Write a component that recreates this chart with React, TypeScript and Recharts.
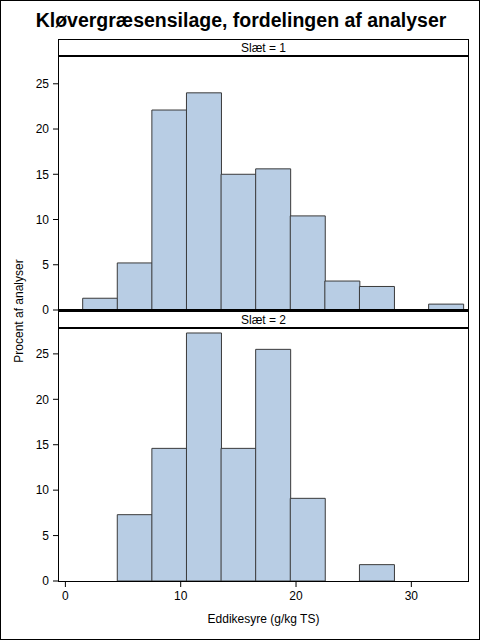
import { Bar, BarChart, XAxis, YAxis } from 'recharts';

// Histogram of acetic acid per cut; bins are 3 g/kg TS wide, given by their midpoints.
const binMids = [3, 6, 9, 12, 15, 18, 21, 24, 27, 30, 33];
const slaet1 = [1.3, 5.2, 22.1, 24.0, 15.0, 15.6, 10.4, 3.2, 2.6, 0, 0.65];
const slaet2 = [0, 7.3, 14.6, 27.3, 14.6, 25.5, 9.1, 0, 1.8, 0, 0];
const yTicks = [0, 5, 10, 15, 20, 25];
const xTicks = [0, 10, 20, 30];

const FONT = '"Liberation Sans", Arial, sans-serif';
const FILL = '#B8CDE4';
const EDGE = '#3a3a3a';
const X_DOMAIN: [number, number] = [-0.64, 35];
const Y_DOMAIN: [number, number] = [0, 27.85];

const PLOT_LEFT = 57;
const PLOT_WIDTH = 411;

const tickStyle = { fontSize: 12, fill: '#000', fontFamily: FONT };

function toRows(values: number[]) {
  return binMids.map((x, i) => ({ x, pct: values[i] }));
}

function Header({ top, label }: { top: number; label: string }) {
  return (
    <div
      style={{
        position: 'absolute',
        left: PLOT_LEFT,
        top,
        width: PLOT_WIDTH,
        height: 18,
        boxSizing: 'border-box',
        borderTop: '1px solid #000',
        borderLeft: '1px solid #000',
        borderRight: '1px solid #000',
        borderBottom: '2px solid #000',
        fontSize: 12,
        lineHeight: '16px',
        textAlign: 'center',
        background: '#fff',
      }}
    >
      {label}
    </div>
  );
}

function Frame({ top, height, bottom }: { top: number; height: number; bottom: number }) {
  return (
    <div
      style={{
        position: 'absolute',
        left: PLOT_LEFT,
        top,
        width: PLOT_WIDTH,
        height,
        boxSizing: 'border-box',
        borderLeft: '1px solid #000',
        borderRight: '1px solid #000',
        borderBottom: `${bottom}px solid #000`,
        pointerEvents: 'none',
      }}
    />
  );
}

export default function App() {
  return (
    <div
      style={{
        position: 'absolute',
        left: 0,
        top: 0,
        width: 480,
        height: 640,
        boxSizing: 'border-box',
        border: '1px solid #000',
        background: '#fff',
        fontFamily: FONT,
        overflow: 'hidden',
      }}
    >
      <div
        style={{
          position: 'absolute',
          left: 0,
          width: 480,
          top: 8,
          textAlign: 'center',
          fontSize: 19.5,
          fontWeight: 'bold',
        }}
      >
        Kløvergræsensilage, fordelingen af analyser
      </div>

      <div style={{ position: 'absolute', left: 0, top: 0 }}>
        <BarChart
          width={480}
          height={320}
          data={toRows(slaet1)}
          margin={{ top: 57, right: 12, bottom: 11, left: 17 }}
          barCategoryGap={0}
          barGap={0}
        >
          <XAxis dataKey="x" type="number" domain={X_DOMAIN} ticks={xTicks} allowDataOverflow hide />
          <YAxis
            width={40}
            domain={Y_DOMAIN}
            ticks={yTicks}
            allowDataOverflow
            axisLine={false}
            tickSize={5}
            tickMargin={4}
            tick={tickStyle}
            tickLine={{ stroke: '#000' }}
          />
          <Bar dataKey="pct" fill={FILL} stroke={EDGE} strokeWidth={1} isAnimationActive={false} />
        </BarChart>
      </div>

      <div style={{ position: 'absolute', left: 0, top: 310 }}>
        <BarChart
          width={480}
          height={330}
          data={toRows(slaet2)}
          margin={{ top: 17, right: 12, bottom: 10, left: 17 }}
          barCategoryGap={0}
          barGap={0}
        >
          <XAxis
            dataKey="x"
            type="number"
            domain={X_DOMAIN}
            ticks={xTicks}
            allowDataOverflow
            height={50}
            axisLine={false}
            tickSize={6}
            tickMargin={4}
            tick={tickStyle}
            tickLine={{ stroke: '#000' }}
            label={{
              value: 'Eddikesyre (g/kg TS)',
              position: 'insideBottom',
              offset: 8,
              style: { fontSize: 12, fill: '#000', fontFamily: FONT },
            }}
          />
          <YAxis
            width={40}
            domain={Y_DOMAIN}
            ticks={yTicks}
            allowDataOverflow
            axisLine={false}
            tickSize={5}
            tickMargin={4}
            tick={tickStyle}
            tickLine={{ stroke: '#000' }}
          />
          <Bar dataKey="pct" fill={FILL} stroke={EDGE} strokeWidth={1} isAnimationActive={false} />
        </BarChart>
      </div>

      <Header top={38} label="Slæt = 1" />
      <Frame top={56} height={254} bottom={2} />
      <Header top={310} label="Slæt = 2" />
      <Frame top={328} height={253} bottom={1} />

      <div
        style={{
          position: 'absolute',
          left: 18,
          top: 310,
          fontSize: 12,
          whiteSpace: 'nowrap',
          transform: 'translate(-50%, -50%) rotate(-90deg)',
        }}
      >
        Procent af analyser
      </div>
    </div>
  );
}
